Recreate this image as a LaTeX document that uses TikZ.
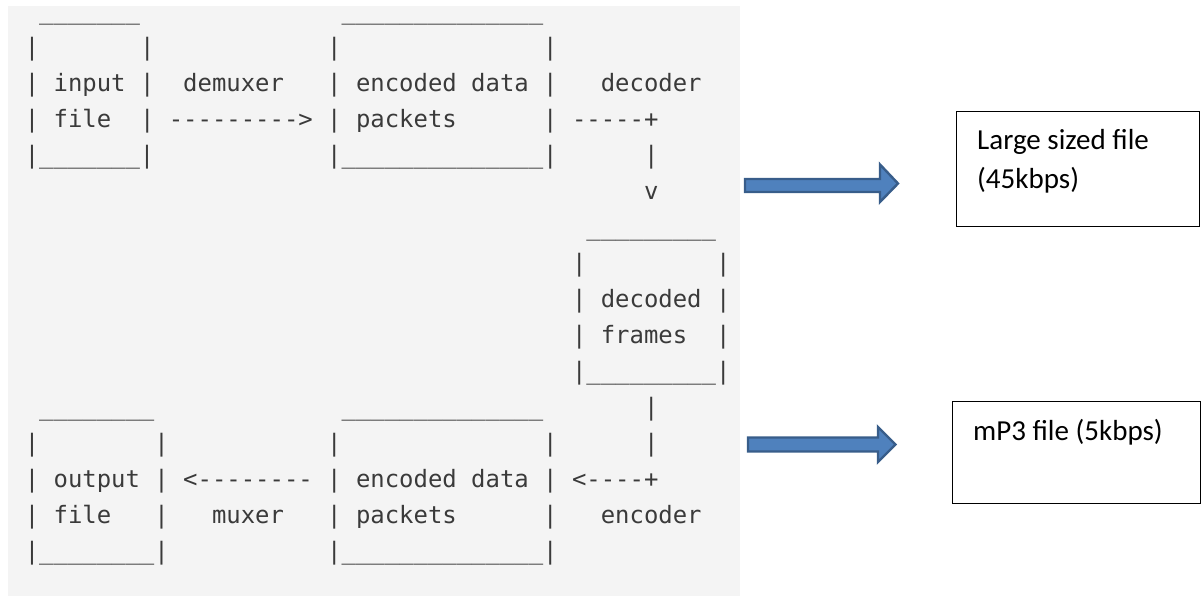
\documentclass[tikz,border=0pt]{standalone}
\usepackage{fontspec}
\setmainfont{Carlito}
\newfontfamily\asciimono{DejaVu Sans Mono}[WordSpace={1,0,0}]
\definecolor{panelgray}{RGB}{244,244,244}
\definecolor{asciiink}{RGB}{58,58,58}
\definecolor{arrowfill}{RGB}{79,129,189}
\definecolor{arrowedge}{RGB}{56,93,138}
\tikzset{
  ascii/.style={anchor=base west, inner sep=0pt, outer sep=0pt,
    text=asciiink, font=\asciimono\fontsize{23.92}{28}\selectfont},
  infobox/.style={draw=black, line width=1.3pt, fill=white, inner sep=0pt,
    anchor=north west},
  infotext/.style={anchor=base west, inner sep=0pt,
    font=\fontsize{29}{36}\selectfont, text=black},
  blockarrow/.style={fill=arrowfill, draw=arrowedge, line width=2.4pt,
    line join=miter},
}
% place a run of characters at a column/row of the character grid
\newcommand\gridtext[4]{%
  \node[ascii] (#1) at ({24.8+14.4*#2},{19.5+36*#3}) {#4};}
\begin{document}
\begin{tikzpicture}[x=1pt,y=-1pt]
\useasboundingbox (0,0) rectangle (1202,597);
\fill[panelgray] (8,6) rectangle (740,596);

% input file box
\gridtext{inTop}{1}{0}{\_\_\_\_\_\_\_}
\gridtext{inL1}{0}{1}{|}\gridtext{inR1}{8}{1}{|}
\gridtext{inL2}{0}{2}{|}\gridtext{inName}{2}{2}{input}\gridtext{inR2}{8}{2}{|}
\gridtext{inL3}{0}{3}{|}\gridtext{inName2}{2}{3}{file}\gridtext{inR3}{8}{3}{|}
\gridtext{inBot}{0}{4}{|\_\_\_\_\_\_\_|}

% demuxer
\gridtext{demuxLbl}{11}{2}{demuxer}
\gridtext{demuxArr}{10}{3}{--{}--{}--{}--{}->}

% encoded data packets (top)
\gridtext{epTop}{22}{0}{\_\_\_\_\_\_\_\_\_\_\_\_\_\_}
\gridtext{epL1}{21}{1}{|}\gridtext{epR1}{36}{1}{|}
\gridtext{epL2}{21}{2}{|}\gridtext{epName}{23}{2}{encoded data}\gridtext{epR2}{36}{2}{|}
\gridtext{epL3}{21}{3}{|}\gridtext{epName2}{23}{3}{packets}\gridtext{epR3}{36}{3}{|}
\gridtext{epBot}{21}{4}{|\_\_\_\_\_\_\_\_\_\_\_\_\_\_|}

% decoder
\gridtext{decLbl}{40}{2}{decoder}
\gridtext{decArr}{38}{3}{--{}--{}-+}
\gridtext{decBar}{43}{4}{|}
\gridtext{decTip}{43}{5}{v}

% decoded frames
\gridtext{dfTop}{39}{6}{\_\_\_\_\_\_\_\_\_}
\gridtext{dfL1}{38}{7}{|}\gridtext{dfR1}{48}{7}{|}
\gridtext{dfL2}{38}{8}{|}\gridtext{dfName}{40}{8}{decoded}\gridtext{dfR2}{48}{8}{|}
\gridtext{dfL3}{38}{9}{|}\gridtext{dfName2}{40}{9}{frames}\gridtext{dfR3}{48}{9}{|}
\gridtext{dfBot}{38}{10}{|\_\_\_\_\_\_\_\_\_|}

% encoder
\gridtext{encBar1}{43}{11}{|}
\gridtext{encBar2}{43}{12}{|}
\gridtext{encArr}{38}{13}{<-{}--{}-+}
\gridtext{encLbl}{40}{14}{encoder}

% encoded data packets (bottom)
\gridtext{eqTop}{22}{11}{\_\_\_\_\_\_\_\_\_\_\_\_\_\_}
\gridtext{eqL1}{21}{12}{|}\gridtext{eqR1}{36}{12}{|}
\gridtext{eqL2}{21}{13}{|}\gridtext{eqName}{23}{13}{encoded data}\gridtext{eqR2}{36}{13}{|}
\gridtext{eqL3}{21}{14}{|}\gridtext{eqName2}{23}{14}{packets}\gridtext{eqR3}{36}{14}{|}
\gridtext{eqBot}{21}{15}{|\_\_\_\_\_\_\_\_\_\_\_\_\_\_|}

% muxer
\gridtext{muxArr}{11}{13}{<-{}--{}--{}--{}-}
\gridtext{muxLbl}{13}{14}{muxer}

% output file box
\gridtext{outTop}{1}{11}{\_\_\_\_\_\_\_\_}
\gridtext{outL1}{0}{12}{|}\gridtext{outR1}{9}{12}{|}
\gridtext{outL2}{0}{13}{|}\gridtext{outName}{2}{13}{output}\gridtext{outR2}{9}{13}{|}
\gridtext{outL3}{0}{14}{|}\gridtext{outName2}{2}{14}{file}\gridtext{outR3}{9}{14}{|}
\gridtext{outBot}{0}{15}{|\_\_\_\_\_\_\_\_|}

% size notes on the right
\node[infobox, minimum width=243pt, minimum height=115pt] (large) at (956,111) {};
\node[infotext] (largeA) at ([shift={(21,38)}]large.north west) {Large sized file};
\node[infotext] (largeB) at ([shift={(21,77)}]large.north west) {(45kbps)};

\node[infobox, minimum width=248pt, minimum height=102pt] (small) at (952,401) {};
\node[infotext] (smallA) at ([shift={(21,39)}]small.north west) {mP3 file (5kbps)};

% block arrows pointing at the notes
\draw[blockarrow] (745,179) -- (880,179) -- (880,164.5) -- (898,183.5)
  -- (880,202) -- (880,192) -- (745,192) -- cycle;
\draw[blockarrow] (748,437.5) -- (878,437.5) -- (878,427) -- (895.5,444.5)
  -- (878,462) -- (878,451.5) -- (748,451.5) -- cycle;
\end{tikzpicture}
\end{document}
